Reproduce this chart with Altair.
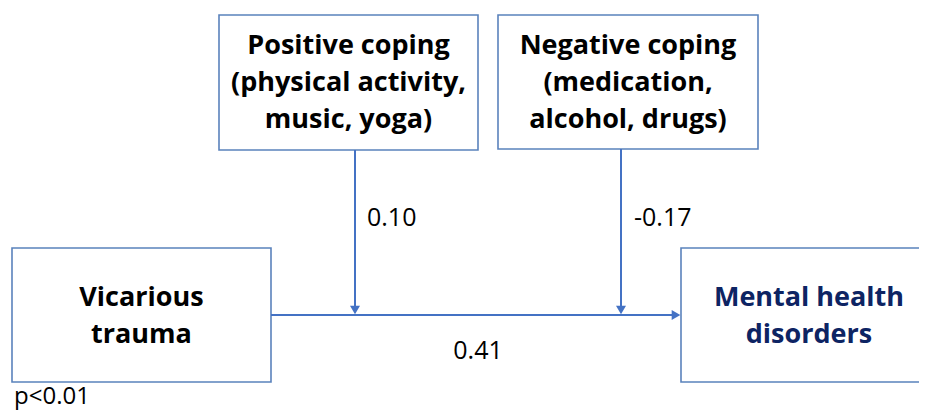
import altair as alt
import pandas as pd

# ---- content ----
node_labels = [
    "Vicarious\ntrauma",
    "Positive coping\n(physical activity,\nmusic, yoga)",
    "Negative coping\n(medication,\nalcohol, drugs)",
    "Mental health\ndisorders",
]
node_text_colors = ["#000000", "#000000", "#000000", "#0D2463"]
path_coefs = ["0.10", "-0.17", "0.41"]
significance = ["p<0.01"]

# ---- layout (screen-like coordinates) ----
box_x1 = [12, 219, 498, 681]
box_x2 = [271, 478, 758, 930]
box_y1 = [248, 15, 15, 248]
box_y2 = [382, 150, 149, 382]
node_cx = [141.5, 348.5, 628, 809]
node_cy = [316, 83, 83, 316]
line_height = 37

line_x1 = [271, 355, 621]
line_x2 = [677, 355, 621]
line_y1 = [315, 150, 149]
line_y2 = [315, 311, 311]
head_x = [676, 355, 621]
head_y = [315, 310, 310]
head_shape = ["triangle-right", "triangle-down", "triangle-down"]

coef_x = [367, 634, 478]
coef_y = [218, 218, 351]
coef_align = ["left", "left", "center"]

sig_x = [14]
sig_y = [397]

boxes = pd.DataFrame(dict(x1=box_x1, x2=box_x2, y1=box_y1, y2=box_y2))

rows = []
for label, color, cx, cy in zip(node_labels, node_text_colors, node_cx, node_cy):
    parts = label.split("\n")
    n = len(parts)
    for i, p in enumerate(parts):
        rows.append(dict(label=p, color=color, x=cx, y=cy + (i - (n - 1) / 2) * line_height))
nodes = pd.DataFrame(rows)

lines = pd.DataFrame(dict(x1=line_x1, x2=line_x2, y1=line_y1, y2=line_y2))
heads = pd.DataFrame(dict(x=head_x, y=head_y, shape=head_shape))
coefs = pd.DataFrame(dict(label=path_coefs, x=coef_x, y=coef_y, align=coef_align))
sig = pd.DataFrame(dict(label=significance, x=sig_x, y=sig_y))

xs = alt.Scale(domain=[8, 919])
ys = alt.Scale(domain=[8, 412], reverse=True)

def X(f):
    return alt.X(f, type="quantitative", scale=xs, axis=None)

def Y(f):
    return alt.Y(f, type="quantitative", scale=ys, axis=None)

BOX = "#5A82BC"
ARROW = "#4472C4"
FONT = "Open Sans"

rects = alt.Chart(boxes).mark_rect(
    fill="white", stroke=BOX, strokeWidth=1.6, clip=True
).encode(x=X("x1"), x2="x2", y=Y("y1"), y2="y2")

rules = alt.Chart(lines).mark_rule(color=ARROW, strokeWidth=2).encode(
    x=X("x1"), x2="x2", y=Y("y1"), y2="y2"
)

arrowheads = alt.Chart(heads).mark_point(
    filled=True, color=ARROW, size=100, opacity=1
).encode(x=X("x"), y=Y("y"), shape=alt.Shape("shape:N", scale=None))

node_text = alt.Chart(nodes).mark_text(
    font=FONT, fontSize=27, fontWeight="bold",
    align="center", baseline="middle"
).encode(x=X("x"), y=Y("y"), text="label:N", color=alt.Color("color:N", scale=None))

coef_left = alt.Chart(coefs[coefs["align"] == "left"]).mark_text(
    font=FONT, fontSize=25, align="left", baseline="middle", color="#000000"
).encode(x=X("x"), y=Y("y"), text="label:N")

coef_center = alt.Chart(coefs[coefs["align"] == "center"]).mark_text(
    font=FONT, fontSize=25, align="center", baseline="middle", color="#000000"
).encode(x=X("x"), y=Y("y"), text="label:N")

sig_text = alt.Chart(sig).mark_text(
    font=FONT, fontSize=24, align="left", baseline="middle", color="#000000"
).encode(x=X("x"), y=Y("y"), text="label:N")

chart = alt.layer(
    rects, rules, arrowheads, node_text, coef_left, coef_center, sig_text
).properties(
    width=911, height=404, padding=0, autosize=alt.AutoSizeParams(type="none")
).configure_view(stroke=None)

chart.save("out.html", embed_options={"renderer": "svg", "actions": False})
